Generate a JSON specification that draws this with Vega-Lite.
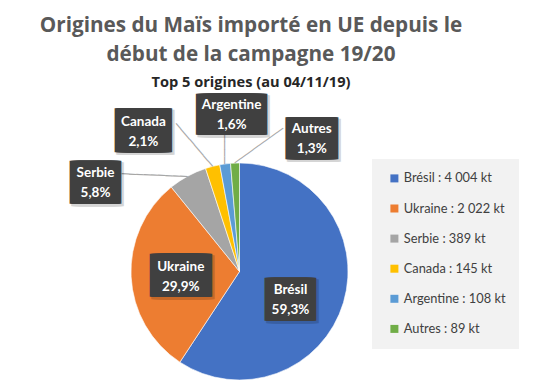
{
  "$schema": "https://vega.github.io/schema/vega-lite/v6.json",
  "width": 217,
  "height": 217,
  "autosize": "none",
  "padding": {"left": 131, "top": 163, "right": 189, "bottom": 8},
  "background": "white",
  "title": {
    "text": ["Origines du Maïs importé en UE depuis le", "début de la campagne 19/20"],
    "subtitle": "Top 5 origines (au 04/11/19)",
    "anchor": "middle",
    "frame": "group",
    "dx": 11.5,
    "offset": 6.5,
    "font": "Open Sans",
    "fontSize": 20.7,
    "fontWeight": "bold",
    "color": "#595959",
    "lineHeight": 29,
    "subtitleFont": "Open Sans",
    "subtitleFontSize": 14.6,
    "subtitleFontWeight": "bold",
    "subtitleColor": "#262626",
    "subtitlePadding": 9
  },
  "data": {
    "values": [
      {"pays": "Brésil", "kt": 4004, "etiquette": "Brésil\n59,3%", "legende": "Brésil : 4 004 kt", "ordre": 1},
      {"pays": "Ukraine", "kt": 2022, "etiquette": "Ukraine\n29,9%", "legende": "Ukraine : 2 022 kt", "ordre": 2},
      {"pays": "Serbie", "kt": 389, "etiquette": "Serbie\n5,8%", "legende": "Serbie : 389 kt", "ordre": 3},
      {"pays": "Canada", "kt": 145, "etiquette": "Canada\n2,1%", "legende": "Canada : 145 kt", "ordre": 4},
      {"pays": "Argentine", "kt": 108, "etiquette": "Argentine\n1,6%", "legende": "Argentine : 108 kt", "ordre": 5},
      {"pays": "Autres", "kt": 89, "etiquette": "Autres\n1,3%", "legende": "Autres : 89 kt", "ordre": 6}
    ]
  },
  "encoding": {
    "theta": {"field": "kt", "type": "quantitative", "stack": true},
    "order": {"field": "ordre", "type": "quantitative", "sort": "ascending"}
  },
  "layer": [
    {
      "mark": {"type": "arc", "outerRadius": 108.5, "stroke": "white", "strokeWidth": 0.6},
      "encoding": {
        "color": {
          "field": "legende",
          "type": "nominal",
          "scale": {
            "domain": ["Brésil : 4 004 kt", "Ukraine : 2 022 kt", "Serbie : 389 kt", "Canada : 145 kt", "Argentine : 108 kt", "Autres : 89 kt"],
            "range": ["#4472C4", "#ED7D31", "#A5A5A5", "#FFC000", "#5B9BD5", "#70AD47"]
          },
          "legend": {
            "orient": "none",
            "legendX": 241,
            "legendY": -4,
            "title": null,
            "fillColor": "#f2f2f2",
            "padding": 13,
            "symbolOffset": 3,
            "symbolType": "square",
            "symbolSize": 64,
            "symbolStrokeWidth": 0,
            "labelFont": "Lato",
            "labelFontSize": 12.8,
            "labelColor": "#404040",
            "rowPadding": 16.1,
            "labelOffset": 3
          }
        }
      }
    },
    {
      "mark": {"type": "text", "radius": 108.5, "angle": 229.6, "align": "left", "baseline": "middle", "font": "DejaVu Sans Mono", "fontSize": 11.69, "color": "#a6a6a6"},
      "encoding": {"text": {"condition": {"test": "datum.pays === 'Canada'", "value": "────────"}, "value": ""}}
    },
    {
      "mark": {"type": "text", "radius": 108.5, "angle": 270, "align": "left", "baseline": "middle", "font": "DejaVu Sans Mono", "fontSize": 12.2, "color": "#a6a6a6"},
      "encoding": {"text": {"condition": {"test": "datum.pays === 'Argentine'", "value": "────"}, "value": ""}}
    },
    {
      "mark": {"type": "text", "radius": 108.5, "angle": 324.2, "align": "left", "baseline": "middle", "font": "DejaVu Sans Mono", "fontSize": 12.3, "color": "#a6a6a6"},
      "encoding": {"text": {"condition": {"test": "datum.pays === 'Autres'", "value": "────────"}, "value": ""}}
    },
    {
      "mark": {"type": "text", "radius": 108.5, "angle": 182.3, "align": "left", "baseline": "middle", "font": "DejaVu Sans Mono", "fontSize": 12.18, "color": "#a6a6a6"},
      "encoding": {"text": {"condition": {"test": "datum.pays === 'Serbie'", "value": "─────────"}, "value": ""}}
    },
    {
      "mark": {"type": "text", "radius": 60, "dx": -4.5, "dy": 12, "align": "center", "baseline": "middle", "font": "DejaVu Sans Mono", "fontSize": 2, "color": "#000000", "stroke": "#000000", "opacity": 0.16, "strokeWidth": 41.7, "strokeJoin": "miter"},
      "encoding": {"text": {"condition": {"test": "datum.pays === 'Brésil'", "value": "█████████"}, "value": ""}}
    },
    {
      "mark": {"type": "text", "radius": 60, "dx": 3.2, "dy": 2.6, "align": "center", "baseline": "middle", "font": "DejaVu Sans Mono", "fontSize": 2, "color": "#000000", "stroke": "#000000", "opacity": 0.16, "strokeWidth": 41.7, "strokeJoin": "miter"},
      "encoding": {"text": {"condition": {"test": "datum.pays === 'Ukraine'", "value": "██████████████████"}, "value": ""}}
    },
    {
      "mark": {"type": "text", "radius": 150, "dx": -70.2, "dy": 43.9, "align": "center", "baseline": "middle", "font": "DejaVu Sans Mono", "fontSize": 2, "color": "#000000", "stroke": "#000000", "opacity": 0.16, "strokeWidth": 41.7, "strokeJoin": "miter"},
      "encoding": {"text": {"condition": {"test": "datum.pays === 'Serbie'", "value": "█████████"}, "value": ""}}
    },
    {
      "mark": {"type": "text", "radius": 150, "dx": -56.9, "dy": 6.1, "align": "center", "baseline": "middle", "font": "DejaVu Sans Mono", "fontSize": 2, "color": "#000000", "stroke": "#000000", "opacity": 0.16, "strokeWidth": 42.7, "strokeJoin": "miter"},
      "encoding": {"text": {"condition": {"test": "datum.pays === 'Canada'", "value": "█████████████"}, "value": ""}}
    },
    {
      "mark": {"type": "text", "radius": 150, "dx": 14, "dy": -7, "align": "center", "baseline": "middle", "font": "DejaVu Sans Mono", "fontSize": 2, "color": "#000000", "stroke": "#000000", "opacity": 0.16, "strokeWidth": 39.7, "strokeJoin": "miter"},
      "encoding": {"text": {"condition": {"test": "datum.pays === 'Argentine'", "value": "███████████████████████████"}, "value": ""}}
    },
    {
      "mark": {"type": "text", "radius": 150, "dx": 80.5, "dy": 18.2, "align": "center", "baseline": "middle", "font": "DejaVu Sans Mono", "fontSize": 2, "color": "#000000", "stroke": "#000000", "opacity": 0.16, "strokeWidth": 40.7, "strokeJoin": "miter"},
      "encoding": {"text": {"condition": {"test": "datum.pays === 'Autres'", "value": "███████████"}, "value": ""}}
    },
    {
      "mark": {"type": "text", "radius": 60, "dx": -6.5, "dy": 10, "align": "center", "baseline": "middle", "font": "DejaVu Sans Mono", "fontSize": 2, "color": "#404040", "stroke": "#404040", "strokeWidth": 40.7, "strokeJoin": "miter"},
      "encoding": {"text": {"condition": {"test": "datum.pays === 'Brésil'", "value": "█████████"}, "value": ""}}
    },
    {
      "mark": {"type": "text", "radius": 60, "dx": 1.2, "dy": 0.6, "align": "center", "baseline": "middle", "font": "DejaVu Sans Mono", "fontSize": 2, "color": "#404040", "stroke": "#404040", "strokeWidth": 40.7, "strokeJoin": "miter"},
      "encoding": {"text": {"condition": {"test": "datum.pays === 'Ukraine'", "value": "██████████████████"}, "value": ""}}
    },
    {
      "mark": {"type": "text", "radius": 150, "dx": -72.2, "dy": 41.9, "align": "center", "baseline": "middle", "font": "DejaVu Sans Mono", "fontSize": 2, "color": "#404040", "stroke": "#404040", "strokeWidth": 40.7, "strokeJoin": "miter"},
      "encoding": {"text": {"condition": {"test": "datum.pays === 'Serbie'", "value": "█████████"}, "value": ""}}
    },
    {
      "mark": {"type": "text", "radius": 150, "dx": -58.9, "dy": 4.1, "align": "center", "baseline": "middle", "font": "DejaVu Sans Mono", "fontSize": 2, "color": "#404040", "stroke": "#404040", "strokeWidth": 41.7, "strokeJoin": "miter"},
      "encoding": {"text": {"condition": {"test": "datum.pays === 'Canada'", "value": "█████████████"}, "value": ""}}
    },
    {
      "mark": {"type": "text", "radius": 150, "dx": 12, "dy": -9, "align": "center", "baseline": "middle", "font": "DejaVu Sans Mono", "fontSize": 2, "color": "#404040", "stroke": "#404040", "strokeWidth": 38.7, "strokeJoin": "miter"},
      "encoding": {"text": {"condition": {"test": "datum.pays === 'Argentine'", "value": "███████████████████████████"}, "value": ""}}
    },
    {
      "mark": {"type": "text", "radius": 150, "dx": 78.5, "dy": 16.2, "align": "center", "baseline": "middle", "font": "DejaVu Sans Mono", "fontSize": 2, "color": "#404040", "stroke": "#404040", "strokeWidth": 39.7, "strokeJoin": "miter"},
      "encoding": {"text": {"condition": {"test": "datum.pays === 'Autres'", "value": "███████████"}, "value": ""}}
    },
    {
      "mark": {"type": "text", "radius": 60, "dx": -6.5, "dy": 5.5, "align": "center", "baseline": "alphabetic", "font": "Lato", "fontSize": 13.5, "fontWeight": "bold", "color": "white", "lineBreak": "\n", "lineHeight": 20},
      "encoding": {"text": {"condition": {"test": "datum.pays === 'Brésil'", "field": "etiquette", "type": "nominal"}, "value": ""}}
    },
    {
      "mark": {"type": "text", "radius": 60, "dx": 1.2, "dy": -3.9, "align": "center", "baseline": "alphabetic", "font": "Lato", "fontSize": 13.5, "fontWeight": "bold", "color": "white", "lineBreak": "\n", "lineHeight": 20},
      "encoding": {"text": {"condition": {"test": "datum.pays === 'Ukraine'", "field": "etiquette", "type": "nominal"}, "value": ""}}
    },
    {
      "mark": {"type": "text", "radius": 150, "dx": -72.2, "dy": 37.4, "align": "center", "baseline": "alphabetic", "font": "Lato", "fontSize": 13.5, "fontWeight": "bold", "color": "white", "lineBreak": "\n", "lineHeight": 20},
      "encoding": {"text": {"condition": {"test": "datum.pays === 'Serbie'", "field": "etiquette", "type": "nominal"}, "value": ""}}
    },
    {
      "mark": {"type": "text", "radius": 150, "dx": -58.9, "dy": -0.4, "align": "center", "baseline": "alphabetic", "font": "Lato", "fontSize": 13.5, "fontWeight": "bold", "color": "white", "lineBreak": "\n", "lineHeight": 20},
      "encoding": {"text": {"condition": {"test": "datum.pays === 'Canada'", "field": "etiquette", "type": "nominal"}, "value": ""}}
    },
    {
      "mark": {"type": "text", "radius": 150, "dx": 12, "dy": -13.5, "align": "center", "baseline": "alphabetic", "font": "Lato", "fontSize": 13.5, "fontWeight": "bold", "color": "white", "lineBreak": "\n", "lineHeight": 20},
      "encoding": {"text": {"condition": {"test": "datum.pays === 'Argentine'", "field": "etiquette", "type": "nominal"}, "value": ""}}
    },
    {
      "mark": {"type": "text", "radius": 150, "dx": 78.5, "dy": 11.7, "align": "center", "baseline": "alphabetic", "font": "Lato", "fontSize": 13.5, "fontWeight": "bold", "color": "white", "lineBreak": "\n", "lineHeight": 20},
      "encoding": {"text": {"condition": {"test": "datum.pays === 'Autres'", "field": "etiquette", "type": "nominal"}, "value": ""}}
    }
  ],
  "config": {"view": {"stroke": null}}
}
